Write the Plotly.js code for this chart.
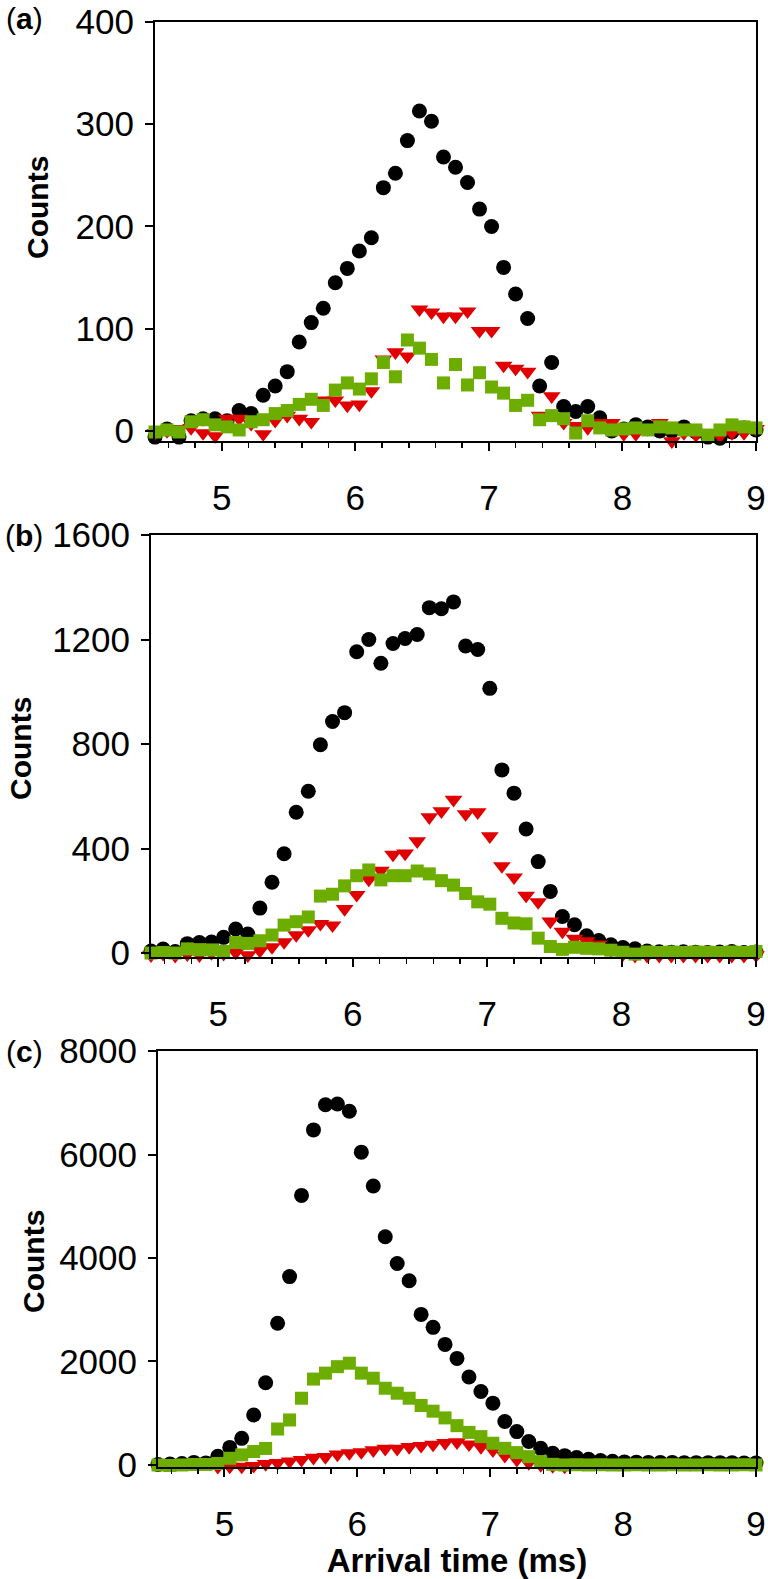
<!DOCTYPE html>
<html>
<head>
<meta charset="utf-8">
<script src="https://cdn.plot.ly/plotly-3.0.1.min.js"></script>
<style>html,body{margin:0;padding:0;background:#fff;}</style>
</head>
<body>
<div id="chart" style="width:768px;height:1579px;"></div>
<script>
// Arrival time grid (ms)
var TIME = [4.50, 4.59, 4.68, 4.77, 4.86, 4.95, 5.04, 5.13, 5.22, 5.31,
            5.40, 5.49, 5.58, 5.67, 5.76, 5.85, 5.94, 6.03, 6.12, 6.21,
            6.30, 6.39, 6.48, 6.57, 6.66, 6.75, 6.84, 6.93, 7.02, 7.11,
            7.20, 7.29, 7.38, 7.47, 7.56, 7.65, 7.74, 7.83, 7.92, 8.01,
            8.10, 8.19, 8.28, 8.37, 8.46, 8.55, 8.64, 8.73, 8.82, 8.91, 9.00];

// Panel (a)
var A_BLACK = [-6, 2, -6, 10, 12, 12, 10, 20, 17, 35,
               44, 58, 87, 106, 120, 145, 159, 176, 189, 238,
               252, 284, 313, 303, 268, 258, 243, 217, 200, 160,
               134, 110, 44, 67, 24, 19, 24, 13, 0, 2,
               6, 4, 0, 0, 4, -1, -6, -7, -1, 3, 1];
var A_RED = [-2, 0, 2, 3, -2, -5, 12, 12, 7, -3,
             10, 15, 12, 9, 30, 30, 25, 26, 39, 70,
             77, 73, 119, 116, 112, 112, 117, 98, 98, 64,
             61, 58, 15, 34, 8, 5, 3, 8, 8, -3,
             -3, 2, 8, -10, -2, -4, -4, -5, -2, -2, 2];
var A_GREEN = [-1, 1, -1, 9, 11, 6, 4, 1, 9, 11,
               17, 20, 26, 31, 25, 40, 47, 41, 51, 67,
               53, 89, 81, 70, 47, 65, 45, 57, 43, 37,
               25, 30, 11, 15, 12, -2, 10, 3, 1, 2,
               3, 1, 4, 3, 1, 1, -4, 1, 6, 4, 3];

// Panel (b)
var B_BLACK = [8, 15, 6, 36, 40, 42, 60, 92, 73, 172,
               271, 380, 539, 619, 797, 886, 920, 1153, 1200, 1109,
               1185, 1204, 1219, 1322, 1318, 1344, 1175, 1162, 1013, 701,
               612, 475, 350, 236, 140, 108, 66, 48, 32, 21,
               16, 8, 5, 3, 5, 3, 2, 4, 6, 2, 4];
var B_RED = [-8, -3, -10, -5, -8, 0, -3, 2, -8, 9,
             23, 42, 69, 88, 112, 106, 169, 223, 281, 315,
             377, 381, 428, 520, 543, 587, 532, 539, 447, 333,
             290, 220, 195, 121, 82, 55, 46, 33, 12, -5,
             -10, -10, -10, -10, -10, -10, -10, -10, -10, -10, -8];
var B_GREEN = [0, 2, 0, 16, 13, 12, 6, 40, 37, 47,
               69, 107, 120, 138, 218, 225, 257, 296, 318, 280,
               296, 296, 314, 303, 277, 260, 228, 196, 187, 133,
               115, 112, 57, 25, 14, 22, 18, 16, 11, 3,
               -4, 4, 2, 4, 2, 4, 3, 2, 4, 2, 6];

// Panel (c)
var C_BLACK = [10, 20, 30, 50, 40, 170, 340, 515, 965, 1590,
               2740, 3640, 5210, 6475, 6960, 6975, 6835, 6045, 5390, 4410,
               3895, 3560, 2910, 2660, 2330, 2060, 1700, 1420, 1195, 840,
               645, 455, 322, 225, 180, 145, 110, 85, 70, 60,
               55, 50, 50, 50, 45, 45, 45, 45, 45, 40, 40];
var C_RED = [-40, -40, -40, -40, -40, -35, -30, -30, -15, 20,
             40, 70, 100, 140, 155, 205, 230, 250, 285, 315,
             315, 350, 370, 395, 425, 440, 400, 350, 285, 180,
             100, 40, 0, -20, -30, -40, -40, -40, -40, -40,
             -40, -40, -40, -40, -40, -40, -40, -40, -40, -40, -40];
var C_GREEN = [0, -10, 0, 10, 10, 30, 130, 195, 260, 320,
               695, 870, 1290, 1660, 1775, 1900, 1967, 1775, 1677, 1483,
               1387, 1290, 1150, 1040, 910, 760, 630, 548, 420, 322,
               239, 161, 65, 13, 0, 5, 0, 5, 0, 0,
               5, 0, 0, 5, 0, 0, 5, 0, 0, 5, 0];

var X_TICKS = [5, 6, 7, 8, 9];
var PANEL_LABELS = ['(<b>a</b>)', '(<b>b</b>)', '(<b>c</b>)'];
var Y_TITLE = '<b>Counts</b>';
var X_TITLE = 'Arrival time (ms)';

var COL_BLACK = '#000000', COL_RED = '#e00000', COL_GREEN = '#6cad00';

function trio(xa, ya, blk, red, grn) {
  return [
    {x: TIME, y: blk, xaxis: xa, yaxis: ya, type: 'scatter', mode: 'markers', cliponaxis: false,
     marker: {symbol: 'circle', size: 15, color: COL_BLACK, line: {width: 0}}},
    {x: TIME, y: red, xaxis: xa, yaxis: ya, type: 'scatter', mode: 'markers', cliponaxis: false,
     marker: {symbol: 'triangle-down', size: 15.5, color: COL_RED, line: {width: 0}}},
    {x: TIME, y: grn, xaxis: xa, yaxis: ya, type: 'scatter', mode: 'markers', cliponaxis: false,
     marker: {symbol: 'square', size: 13, color: COL_GREEN, line: {width: 0}}}
  ];
}

var data = [].concat(
  trio('x', 'y', A_BLACK, A_RED, A_GREEN),
  trio('x2', 'y2', B_BLACK, B_RED, B_GREEN),
  trio('x3', 'y3', C_BLACK, C_RED, C_GREEN)
);

var W = 768, H = 1579;
var TICKFONT = {size: 35, color: '#000'};
function xAx(left, anchor) {
  return {domain: [left / W, 756 / W], anchor: anchor, range: [4.5, 9],
    tickmode: 'array', tickvals: X_TICKS, ticktext: X_TICKS.map(String),
    ticks: 'outside', ticklen: 8, tickwidth: 2, tickcolor: '#000',
    showline: true, linewidth: 2, linecolor: '#000', mirror: true,
    showgrid: false, zeroline: false, tickfont: TICKFONT,
    ticklabelstandoff: 17,
    minor: {dtick: 0.2, tick0: 0, ticks: 'outside', ticklen: 5, tickwidth: 1.5, tickcolor: '#000', showgrid: false}};
}
function yAx(topPx, botPx, range, dtick, anchor) {
  return {domain: [1 - botPx / H, 1 - topPx / H], anchor: anchor, range: range, dtick: dtick, tick0: 0,
    ticks: 'outside', ticklen: 8, tickwidth: 2, tickcolor: '#000',
    showline: true, linewidth: 2, linecolor: '#000', mirror: true,
    showgrid: false, zeroline: false, tickfont: TICKFONT,
    ticklabelstandoff: 4};
}

var xa3 = xAx(158, 'y3');
xa3.title = {text: X_TITLE, standoff: 24, font: {size: 33, weight: 'bold', color: '#000'}};

function ann(text, xPx, yPx, size, angle) {
  return {text: text, xref: 'paper', yref: 'paper', x: xPx / W, y: 1 - yPx / H,
    xanchor: 'center', yanchor: 'middle', showarrow: false, textangle: angle || 0,
    font: {size: size, color: '#000'}};
}

var layout = {
  width: W, height: H, margin: {l: 0, r: 0, t: 0, b: 0},
  paper_bgcolor: '#fff', plot_bgcolor: '#fff', showlegend: false,
  font: {family: '"Liberation Sans", Arial, sans-serif', color: '#000'},
  xaxis: xAx(155, 'y'),
  yaxis: yAx(22, 441.2, [-10, 400], 100, 'x'),
  xaxis2: xAx(151, 'y2'),
  yaxis2: yAx(535, 956.7, [-14, 1600], 400, 'x2'),
  xaxis3: xa3,
  yaxis3: yAx(1051, 1466.8, [-35, 8000], 2000, 'x3'),
  annotations: [
    ann(PANEL_LABELS[0], 24, 19, 30),
    ann(PANEL_LABELS[1], 24, 535, 30),
    ann(PANEL_LABELS[2], 24, 1051, 30),
    ann(Y_TITLE, 38, 208, 30, -90),
    ann(Y_TITLE, 20, 749, 30, -90),
    ann(Y_TITLE, 33, 1262, 30, -90)
  ]
};

Plotly.newPlot('chart', data, layout, {displayModeBar: false, staticPlot: true});
</script>
</body>
</html>
